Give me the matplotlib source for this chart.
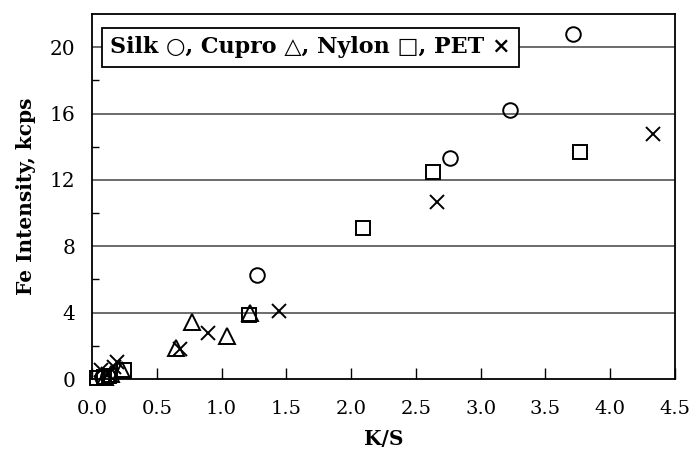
import matplotlib
matplotlib.use("Agg")
import matplotlib.pyplot as plt

plt.rcParams['font.family'] = ['DejaVu Serif', 'DejaVu Sans']
plt.rcParams['mathtext.fontset'] = 'dejavuserif'

silk_x = [0.08, 0.12, 1.27, 2.76, 3.23, 3.71]
silk_y = [0.10, 0.20, 6.30, 13.30, 16.20, 20.80]

cupro_x = [0.10, 0.15, 0.23, 0.65, 0.77, 1.045, 1.22]
cupro_y = [0.10, 0.30, 0.55, 1.90, 3.46, 2.60, 3.98]

nylon_x = [0.04, 0.09, 0.13, 0.25, 1.21, 2.09, 2.63, 3.77]
nylon_y = [0.05, 0.10, 0.20, 0.56, 3.86, 9.10, 12.50, 13.66]

pet_x = [0.07, 0.12, 0.17, 0.19, 0.68, 0.895, 1.44, 2.66, 4.33]
pet_y = [0.55, 0.30, 0.70, 1.00, 1.80, 2.80, 4.12, 10.70, 14.80]

xticks = [0.0, 0.5, 1.0, 1.5, 2.0, 2.5, 3.0, 3.5, 4.0, 4.5]
yticks = [0, 4, 8, 12, 16, 20]

fig = plt.figure(figsize=(6.9, 4.55), dpi=100)
ax = fig.add_axes([0.1333, 0.167, 0.845, 0.802])

ax.set_xlim(0, 4.5)
ax.set_ylim(0, 22)

for yv in yticks[1:]:
    ax.axhline(yv, color='#444444', lw=1.1, zorder=1)

kw = dict(linestyle='none', markerfacecolor='none', markeredgecolor='black',
          markeredgewidth=1.4, clip_on=False, zorder=3)
ax.plot(silk_x, silk_y, marker='o', markersize=10.5, **kw)
ax.plot(cupro_x, cupro_y, marker='^', markersize=11, **kw)
ax.plot(nylon_x, nylon_y, marker='s', markersize=10, **kw)
ax.plot(pet_x, pet_y, marker='x', markersize=10, **kw)

ax.set_xticks(xticks)
ax.set_xticklabels([f"{v:.1f}" for v in xticks])
ax.set_yticks(yticks)
ax.set_yticks([2, 6, 10, 14, 18], minor=True)
ax.tick_params(axis='x', direction='in', length=8, width=1, labelsize=14, pad=15)
ax.tick_params(axis='y', which='major', direction='in', length=0, labelsize=14.5, pad=12)
ax.tick_params(axis='y', which='minor', direction='in', length=5, width=1)

for s in ax.spines.values():
    s.set_linewidth(1.3)
    s.set_color('black')

ax.set_xlabel('K/S', fontsize=14.5, fontweight='bold', labelpad=8)
ax.set_ylabel('Fe Intensity, kcps', fontsize=14.5, fontweight='bold', labelpad=10)

ax.text(0.14, 20, 'Silk \u25CB, Cupro \u25B3, Nylon \u25A1, PET \u00D7',
        fontsize=16, fontweight='bold', va='center', ha='left', zorder=5,
        bbox=dict(boxstyle='square,pad=0.38', facecolor='white', edgecolor='black', lw=1.3))

fig.savefig('out.png', dpi=100)
